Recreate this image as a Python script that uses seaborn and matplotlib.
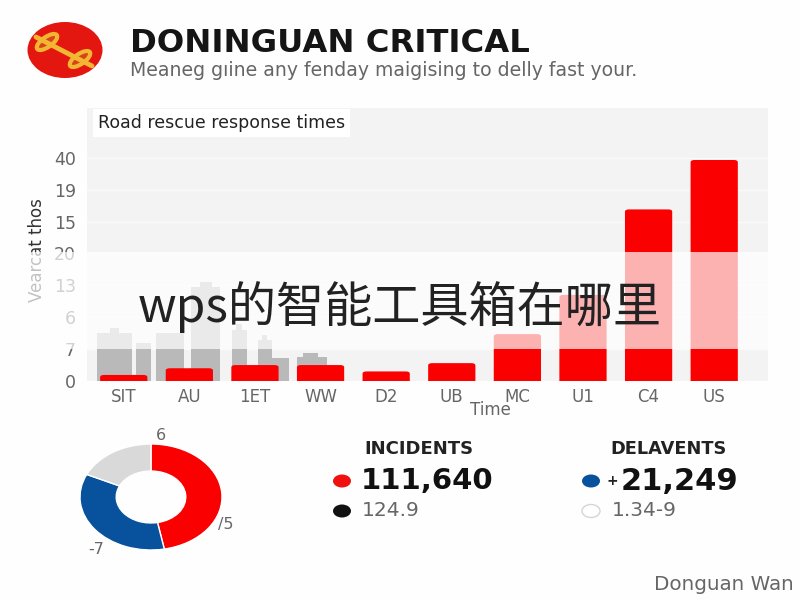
import matplotlib
matplotlib.use('Agg')
import matplotlib.pyplot as plt
from matplotlib.patches import Ellipse, FancyBboxPatch, Rectangle
import seaborn as sns
import pandas as pd

# values, heights are in tick steps (ticks are not linear)
categories = ['SIT', 'AU', '1ET', 'WW', 'D2', 'UB', 'MC', 'U1', 'C4', 'US']
response = [0.19, 0.4, 0.5, 0.5, 0.3, 0.56, 1.47, 2.7, 5.38, 6.93]
y_tick_labels = ['0', '7', '6', '13', '20', '15', '19', '40']

skyline_x = [-0.14, -0.14, 0.3, 0.7, 1.24, 1.25, 1.76, 1.76, 2.15, 2.15, 2.39, 2.87, 2.84]
skyline_w = [0.52, 0.15, 0.24, 0.43, 0.44, 0.18, 0.23, 0.1, 0.21, 0.08, 0.26, 0.46, 0.23]
skyline_h = [1.5, 1.66, 1.19, 1.5, 2.94, 3.1, 1.6, 1.8, 1.3, 1.45, 0.72, 0.75, 0.87]

donut_values = [47, 35, 18]
donut_colors = ['#fb0000', '#08519c', '#d9d9d9']

RED = '#fb0000'
BLUE = '#08519c'

sns.set_theme(style='white')
plt.rcParams['font.family'] = ['DejaVu Sans']


def px_axes(fig, left, top, right, bottom, **kw):
    return fig.add_axes([left / 800, 1 - bottom / 600, (right - left) / 800, (bottom - top) / 600], **kw)


fig = plt.figure(figsize=(8, 6), dpi=100, facecolor='#fefefe')

# bars
ax = px_axes(fig, 87, 108, 768, 381, facecolor='#f3f3f3')
ax.bar(skyline_x, skyline_h, width=skyline_w, color='#b9b9b9', edgecolor='none', zorder=1)
df = pd.DataFrame({'cat': categories, 'val': response})
sns.barplot(data=df, x='cat', y='val', color=RED, saturation=1, width=0.72, ax=ax, zorder=2)
ax.set_xlim(-0.56, 9.82)
ax.set_ylim(0, 8.56)
# swap the seaborn rectangles for ones with slightly rounded tops
for p in [p for p in ax.patches if p.get_zorder() == 2]:
    x, w, h = p.get_x(), p.get_width(), p.get_height()
    p.set_visible(False)
    ax.add_patch(FancyBboxPatch((x, -0.3), w, h + 0.3, boxstyle='round,pad=0,rounding_size=0.06',
                                mutation_aspect=1.2, fc=RED, ec='none', zorder=2))
ax.set_yticks(range(len(y_tick_labels)))
ax.set_yticklabels(y_tick_labels, fontsize=12.5, color='#666666')
ax.tick_params(axis='y', length=0, pad=8)
ax.tick_params(axis='x', length=0, pad=5, labelsize=12, labelcolor='#666666')
ax.grid(axis='y', color='#fafafa', lw=1, zorder=0)
ax.set_axisbelow(True)
ax.set_xlabel('Time', fontsize=12, color='#666666')
ax.xaxis.set_label_coords(0.592, -0.075)
ax.set_ylabel('Vearcat thos', fontsize=12, color='#333333')
ax.yaxis.set_label_coords(-0.06, 0.48)
sns.despine(ax=ax, left=True, bottom=True, top=True, right=True)
ax.text(0.0165, 0.945, 'Road rescue response times', transform=ax.transAxes, fontsize=12.5,
        color='#222222', va='center', zorder=5,
        bbox=dict(fc='white', ec='none', pad=3.5))

# donut
ax2 = px_axes(fig, 80, 444, 222, 550)
ax2.pie(donut_values, colors=donut_colors, startangle=90, counterclock=False, radius=1,
        wedgeprops=dict(width=0.51, edgecolor='white', linewidth=1))
ax2.set_aspect('auto')
ax2.set_xlim(-1, 1)
ax2.set_ylim(-1, 1)

# everything else in pixel coordinates
ov = fig.add_axes([0, 0, 1, 1], facecolor='none', zorder=10)
ov.set_xlim(0, 800)
ov.set_ylim(600, 0)
ov.axis('off')

# logo
ov.add_patch(Ellipse((65, 50), 75, 56, fc='#e3170f', ec='none'))
ov.plot([36, 92], [37, 66], color='#f2b632', lw=3.5, solid_capstyle='round')
for cx, cy in [(47, 42), (80, 59)]:
    ov.add_patch(Ellipse((cx, cy), 24, 10, angle=-35, fc='#d9431a', ec='#f2b632', lw=3))

ov.text(130, 43, 'DONINGUAN CRITICAL', fontsize=23.2, fontweight='bold', color='#151515', va='center')
ov.text(130, 70, 'Meaneg gıine any fenday maigising to delly fast your.', fontsize=13.6,
        color='#666666', va='center')

# donut labels
ov.text(161, 436, '6', fontsize=11.5, color='#666666', ha='center', va='center')
ov.text(226, 525, '/5', fontsize=11.5, color='#666666', ha='center', va='center')
ov.text(96, 550, '-7', fontsize=11.5, color='#666666', ha='center', va='center')

# kpi blocks
ov.text(419, 449, 'INCIDENTS', fontsize=13, fontweight='bold', color='#222222', ha='center', va='center')
ov.add_patch(Ellipse((342, 481), 18, 13, fc='#f01010', ec='none'))
ov.text(361, 481, '111,640', fontsize=21, fontweight='bold', color='#111111', va='center')
ov.add_patch(Ellipse((342, 511), 18, 13, fc='#111111', ec='none'))
ov.text(362, 511, '124.9', fontsize=14.5, color='#666666', va='center')

ov.text(668, 449, 'DELAVENTS', fontsize=12.8, fontweight='bold', color='#222222', ha='center', va='center')
ov.add_patch(Ellipse((591, 481), 18, 13, fc=BLUE, ec='none'))
ov.text(607, 481, '+', fontsize=10, fontweight='bold', color='#222222', va='center')
ov.text(621, 481, '21,249', fontsize=22, fontweight='bold', color='#111111', va='center')
ov.add_patch(Ellipse((591, 511), 18, 13, fc='white', ec='#d5d5d5', lw=1))
ov.text(612, 511, '1.34-9', fontsize=14.5, color='#666666', va='center')

ov.text(654, 584, 'Donguan Wan', fontsize=14.3, color='#666666', va='center')

# translucent strip with the big caption
ov.add_patch(Rectangle((0, 252), 800, 97, fc='white', ec='none', alpha=0.7, zorder=3))
ov.text(400, 307, 'wps的智能工具箱在哪里', fontsize=34.7, color='#222222', ha='center', va='center', zorder=4,
        family=['Noto Sans CJK SC', 'DejaVu Sans'])

fig.savefig('out.png', dpi=100)
